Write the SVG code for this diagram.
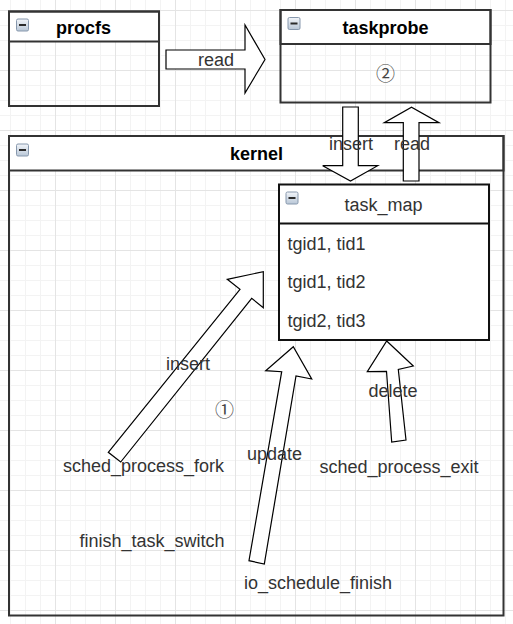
<svg xmlns="http://www.w3.org/2000/svg" width="513" height="624" viewBox="0 0 513 624">
<defs>
<pattern id="grid" patternUnits="userSpaceOnUse" x="-5" y="10" width="60" height="60">
<rect x="0" y="0" width="60" height="60" fill="#ffffff"/>
<path d="M15.5 0V60M30.5 0V60M45.5 0V60M0 15.5H60M0 30.5H60M0 45.5H60" stroke="#f3f3f3" stroke-width="1"/>
<path d="M0.5 0V60M0 0.5H60" stroke="#e4e4e4" stroke-width="1"/>
</pattern>
<linearGradient id="ig" x1="0" y1="0" x2="0" y2="1">
<stop offset="0" stop-color="#f2f5f9"/>
<stop offset="1" stop-color="#b9c7d7"/>
</linearGradient>
<g id="icon">
<rect x="0.5" y="0.5" width="12" height="12" rx="1.5" fill="url(#ig)" stroke="#8798ad" stroke-width="1"/>
<path d="M3 6.5H10" stroke="#2b2b2b" stroke-width="2"/>
</g>
</defs>
<style>
.box{fill:none;stroke:#333333;stroke-width:2}
.hdr{fill:#ffffff;stroke:#333333;stroke-width:2}
.arr{fill:#ffffff;stroke:#000000;stroke-width:1.2;stroke-linejoin:miter}
.t{font-family:"Liberation Sans",Arial,sans-serif;font-size:18px;fill:#333333}
.b{font-weight:bold;fill:#000000}
.m{text-anchor:middle}
.c{font-family:"Noto Sans CJK SC","DejaVu Sans",sans-serif;font-size:19px;fill:#444444;text-anchor:middle}
</style>
<rect x="0" y="0" width="513" height="624" fill="url(#grid)"/>

<g id="procfs">
<rect class="hdr" x="9" y="11.5" width="150" height="30"/>
<rect class="box" x="9" y="11.5" width="150" height="94.5"/>
<use href="#icon" x="16" y="18.5"/>
<text class="t b m" x="83.5" y="33.5">procfs</text>
</g>

<g id="taskprobe">
<rect class="hdr" x="280.5" y="10" width="210" height="34"/>
<rect class="box" x="280.5" y="10" width="210" height="92.5"/>
<use href="#icon" x="287.5" y="17"/>
<text class="t b m" x="385.5" y="33.5">taskprobe</text>
<text class="c" x="385.5" y="81">②</text>
</g>

<g id="kernel">
<rect class="hdr" x="9" y="136" width="494.5" height="34.5"/>
<rect class="box" x="9" y="136" width="494.5" height="479.5"/>
<use href="#icon" x="16" y="143.5"/>
<text class="t b m" x="256.5" y="160">kernel</text>
</g>

<g id="task_map">
<rect x="279" y="184.5" width="210" height="155.5" fill="#ffffff" stroke="#111111" stroke-width="2"/>
<path d="M279 223.5H489" stroke="#111111" stroke-width="2"/>
<use href="#icon" x="285.5" y="191.5"/>
<text class="t m" x="383.5" y="211">task_map</text>
<text class="t" x="287.5" y="249.5">tgid1, tid1</text>
<text class="t" x="287.5" y="288">tgid1, tid2</text>
<text class="t" x="287.5" y="326.5">tgid2, tid3</text>
</g>

<g id="connectors">
<polygon class="arr" points="166,50 245,50 245,25 265,59.5 245,93 245,69 166,69"/>
<polygon class="arr" points="342.7,107 358.3,107 358.3,165.7 377.7,165.7 350.5,181 322.7,165.7 342.7,165.7"/>
<polygon class="arr" points="403.3,181 419,181 419,122.7 439,122.7 411.5,107.3 384.3,122.7 403.3,122.7"/>
<polygon class="arr" points="108.3,452.3 240,289.3 227.3,279.3 263.3,271.7 263.3,307.7 251.7,298.3 120.7,462"/>
<polygon class="arr" points="249,560.7 281.7,371.7 265.7,370.7 293.3,346.7 311.7,379 296,376 264.3,564"/>
<polygon class="arr" points="391.7,442 386.5,371.3 367.3,371.7 386.7,341 413.3,366 398.3,369.5 406,440"/>
<text class="t m" x="216" y="65.5">read</text>
<text class="t m" x="351" y="150">insert</text>
<text class="t m" x="412" y="150">read</text>
<text class="t m" x="188" y="369.5">insert</text>
<text class="t m" x="274.5" y="460">update</text>
<text class="t m" x="393" y="396.5">delete</text>
</g>

<g id="labels">
<text class="c" x="224.5" y="417">①</text>
<text class="t m" x="143.5" y="472">sched_process_fork</text>
<text class="t m" x="399" y="472.5">sched_process_exit</text>
<text class="t m" x="152" y="547">finish_task_switch</text>
<text class="t m" x="318" y="589">io_schedule_finish</text>
</g>
</svg>
